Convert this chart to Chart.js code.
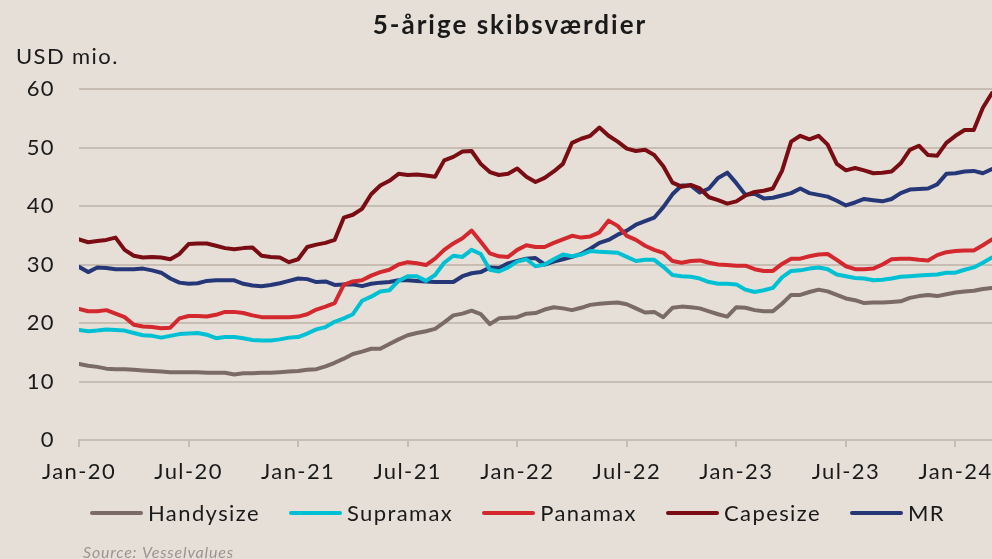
<!DOCTYPE html>
<html>
<head>
<meta charset="utf-8">
<script src="https://cdn.jsdelivr.net/npm/chart.js@4.4.0/dist/chart.umd.min.js"></script>
<style>
    html, body { margin: 0; padding: 0; background: #e5dfd8; }
    #wrap { position: relative; width: 992px; height: 559px; }
    #legend {
        position: absolute; left: 90px; top: 500px;
        display: flex; align-items: center;
        font: 22px Lato, "Open Sans", sans-serif; letter-spacing: 1.4px;
        line-height: 26px; color: #1a1a1a; white-space: nowrap;
    }
    #legend .item { display: flex; align-items: center; margin-right: 29px; }
    #legend .swatch { width: 53px; height: 4px; border-radius: 2px; margin-right: 5px; }
</style>
</head>
<body>
<div id="wrap"><canvas id="chart"></canvas><div id="legend"></div></div>
<script>
// half-monthly observations, month offset from Jan 2020
const monthStep = 0.5;

const handysize = [
    13.0, 12.7, 12.5, 12.2, 12.1, 12.1, 12.0, 11.9, 11.8, 11.7,
    11.6, 11.6, 11.6, 11.6, 11.5, 11.5, 11.5, 11.2, 11.4, 11.4,
    11.5, 11.5, 11.6, 11.7, 11.8, 12.0, 12.1, 12.6, 13.2, 13.9,
    14.7, 15.1, 15.6, 15.6, 16.4, 17.2, 17.9, 18.3, 18.6, 19.0,
    20.1, 21.3, 21.6, 22.1, 21.5, 19.8, 20.8, 20.9, 21.0, 21.6,
    21.7, 22.3, 22.7, 22.5, 22.2, 22.6, 23.1, 23.3, 23.4, 23.5,
    23.2, 22.5, 21.8, 21.9, 21.0, 22.6, 22.8, 22.7, 22.5, 22.0,
    21.5, 21.1, 22.7, 22.6, 22.2, 22.0, 22.0, 23.3, 24.8, 24.8,
    25.3, 25.7, 25.4, 24.8, 24.2, 23.9, 23.4, 23.5, 23.5, 23.6,
    23.7, 24.3, 24.6, 24.8, 24.6, 24.9, 25.2, 25.4, 25.5, 25.8,
    26.0
];
const supramax = [
    18.8, 18.6, 18.7, 18.9, 18.8, 18.7, 18.3, 17.9, 17.8, 17.5,
    17.8, 18.1, 18.2, 18.3, 18.0, 17.4, 17.6, 17.6, 17.4, 17.1,
    17.0, 17.0, 17.2, 17.5, 17.6, 18.2, 18.9, 19.3, 20.2, 20.8,
    21.5, 23.8, 24.5, 25.4, 25.6, 27.2, 28.0, 28.0, 27.2, 28.2,
    30.3, 31.5, 31.3, 32.5, 31.8, 29.1, 28.8, 29.5, 30.5, 30.9,
    29.7, 30.0, 30.9, 31.7, 31.4, 31.7, 32.3, 32.2, 32.1, 32.0,
    31.3, 30.6, 30.8, 30.8, 29.6, 28.2, 28.0, 27.9, 27.6, 27.0,
    26.7, 26.7, 26.6, 25.7, 25.3, 25.6, 26.0, 27.8, 28.9, 29.0,
    29.3, 29.5, 29.2, 28.3, 28.0, 27.7, 27.6, 27.3, 27.4, 27.6,
    27.9, 28.0, 28.1, 28.2, 28.3, 28.6, 28.6, 29.1, 29.5, 30.3,
    31.2
];
const panamax = [
    22.4, 22.0, 22.0, 22.2, 21.6, 21.0, 19.7, 19.4, 19.3, 19.1,
    19.2, 20.8, 21.2, 21.2, 21.1, 21.4, 21.9, 21.9, 21.7, 21.3,
    21.0, 21.0, 21.0, 21.0, 21.1, 21.5, 22.3, 22.8, 23.4, 26.5,
    27.1, 27.3, 28.1, 28.7, 29.1, 30.0, 30.4, 30.2, 29.9, 31.0,
    32.5, 33.6, 34.5, 35.8, 33.9, 31.9, 31.4, 31.3, 32.5, 33.3,
    33.0, 33.0, 33.7, 34.3, 34.9, 34.6, 34.8, 35.5, 37.5, 36.6,
    34.9, 34.2, 33.2, 32.5, 32.0, 30.6, 30.3, 30.6, 30.7, 30.3,
    30.0, 29.9, 29.8, 29.8, 29.2, 28.9, 28.9, 30.1, 31.0, 31.0,
    31.4, 31.7, 31.8, 30.8, 29.7, 29.2, 29.2, 29.3, 30.0, 30.9,
    31.0, 31.0, 30.8, 30.7, 31.6, 32.1, 32.3, 32.4, 32.4, 33.3,
    34.3
];
const capesize = [
    34.3, 33.8, 34.0, 34.2, 34.6, 32.5, 31.5, 31.2, 31.3, 31.2,
    30.9, 31.8, 33.5, 33.6, 33.6, 33.2, 32.8, 32.6, 32.8, 32.9,
    31.5, 31.3, 31.2, 30.4, 30.9, 33.0, 33.4, 33.7, 34.2, 38.0,
    38.5, 39.5, 42.0, 43.5, 44.3, 45.5, 45.3, 45.4, 45.2, 45.0,
    47.8, 48.4, 49.3, 49.4, 47.2, 45.8, 45.3, 45.5, 46.4, 45.0,
    44.1, 44.8, 45.9, 47.2, 50.8, 51.5, 52.0, 53.4, 52.0, 51.0,
    49.8, 49.4, 49.6, 48.7, 46.8, 44.0, 43.3, 43.6, 43.0, 41.5,
    41.0, 40.4, 40.8, 41.8, 42.4, 42.6, 43.0, 46.0, 51.0, 52.0,
    51.4, 52.0, 50.5, 47.2, 46.1, 46.5, 46.1, 45.6, 45.7, 45.9,
    47.3, 49.6, 50.3, 48.7, 48.6, 50.8, 52.0, 53.0, 53.0, 56.8,
    59.3
];
const mr = [
    29.6, 28.7, 29.5, 29.4, 29.2, 29.2, 29.2, 29.3, 29.0, 28.6,
    27.6, 26.9, 26.7, 26.8, 27.2, 27.3, 27.3, 27.3, 26.7, 26.4,
    26.3, 26.5, 26.8, 27.2, 27.6, 27.5, 27.0, 27.1, 26.5, 26.6,
    26.6, 26.3, 26.7, 26.9, 27.0, 27.3, 27.3, 27.2, 27.1, 27.0,
    27.0, 27.0, 28.0, 28.5, 28.7, 29.5, 29.4, 30.2, 30.6, 31.0,
    31.1, 30.0, 30.5, 30.9, 31.3, 31.8, 32.7, 33.7, 34.2, 35.1,
    35.8, 36.8, 37.4, 38.0, 39.8, 42.0, 43.5, 43.5, 42.3, 43.0,
    44.8, 45.7, 43.9, 41.9, 42.1, 41.3, 41.4, 41.8, 42.2, 43.0,
    42.2, 41.9, 41.6, 40.9, 40.1, 40.6, 41.2, 41.0, 40.8, 41.2,
    42.2, 42.8, 42.9, 43.0, 43.7, 45.5, 45.6, 45.9, 46.0, 45.6,
    46.3
];

const seriesNames = ['Handysize', 'Supramax', 'Panamax', 'Capesize', 'MR'];
const seriesColors = ['#7b6b65', '#00c1d4', '#d2282e', '#7a0c13', '#263778'];

const tickMonths = [0, 6, 12, 18, 24, 30, 36, 42, 48];
const tickLabels = ['Jan-20', 'Jul-20', 'Jan-21', 'Jul-21', 'Jan-22', 'Jul-22', 'Jan-23', 'Jul-23', 'Jan-24'];

const chartTitle = '5-årige skibsværdier';
const unitLabel = 'USD mio.';
const sourceText = 'Source: Vesselvalues';

var fontFamily = 'Lato, "Open Sans", sans-serif';
var textColor = '#1a1a1a';
var gridColor = '#c7bdb3';
var spacing = '1.4px';   // the original font runs wider than Lato

function toPoints(values) {
    return values.map((v, i) => ({ x: i * monthStep, y: v }));
}

var allSeries = [handysize, supramax, panamax, capesize, mr];

const data = {
    datasets: allSeries.map((values, i) => ({
        label: seriesNames[i],
        data: toPoints(values),
        borderColor: seriesColors[i],
        backgroundColor: seriesColors[i],
        borderWidth: 4,
        pointRadius: 0,
        borderJoinStyle: 'round',
        borderCapStyle: 'round',
        tension: 0,
    }))
};

// wider letter spacing for everything Chart.js measures and draws
const letterSpacing = {
    id: 'letterSpacing',
    beforeLayout(chart) { chart.ctx.letterSpacing = spacing; },
    beforeDraw(chart) { chart.ctx.letterSpacing = spacing; }
};

// legend as html, so it can sit exactly where the original has it
const htmlLegend = {
    id: 'htmlLegend',
    afterUpdate(chart) {
        const box = document.getElementById('legend');
        box.innerHTML = '';
        chart.data.datasets.forEach(ds => {
            const item = document.createElement('div');
            item.className = 'item';
            const swatch = document.createElement('span');
            swatch.className = 'swatch';
            swatch.style.background = ds.borderColor;
            const text = document.createElement('span');
            text.textContent = ds.label;
            item.appendChild(swatch);
            item.appendChild(text);
            box.appendChild(item);
        });
    }
};

// title, unit and source are drawn straight on the canvas
const extraText = {
    id: 'extraText',
    afterDraw(chart) {
        const ctx = chart.ctx;
        ctx.save();
        ctx.fillStyle = textColor;
        ctx.textBaseline = 'alphabetic';
        ctx.textAlign = 'center';
        ctx.letterSpacing = '2px';
        ctx.font = 'bold 26px ' + fontFamily;
        ctx.fillText(chartTitle, 510, 34);
        ctx.textAlign = 'left';
        ctx.letterSpacing = spacing;
        ctx.font = '22px ' + fontFamily;
        ctx.fillText(unitLabel, 16, 64);
        ctx.letterSpacing = '0.8px';
        ctx.font = 'italic 16px ' + fontFamily;
        ctx.fillStyle = '#9b958f';
        ctx.fillText(sourceText, 83, 558);
        ctx.restore();
    }
};

const config = {
    type: 'line',
    data: data,
    plugins: [letterSpacing, htmlLegend, extraText],
    options: {
        responsive: true,
        maintainAspectRatio: false,
        animation: false,
        layout: {
            padding: { top: 89, left: 0, right: 0, bottom: 73 }
        },
        plugins: {
            title: { display: false },
            tooltip: { enabled: false },
            legend: { display: false }
        },
        scales: {
            x: {
                type: 'linear',
                min: 0,
                max: 50,
                afterBuildTicks: (scale) => {
                    scale.ticks = tickMonths.map(v => ({ value: v }));
                },
                afterFit: (scale) => {
                    scale.height = 46;
                    scale.paddingLeft = 0;
                    scale.paddingRight = 0;
                },
                ticks: {
                    autoSkip: false,
                    maxRotation: 0,
                    padding: 12,
                    color: textColor,
                    font: { size: 22, family: fontFamily },
                    callback: (value, index) => tickLabels[index]
                },
                grid: {
                    drawOnChartArea: false,
                    drawTicks: true,
                    tickLength: 7,
                    color: gridColor,
                    lineWidth: 2
                },
                border: { display: true, color: gridColor, width: 2 }
            },
            y: {
                min: 0,
                max: 60,
                afterFit: (scale) => { scale.width = 79; },
                ticks: {
                    stepSize: 10,
                    padding: 24,
                    color: textColor,
                    font: { size: 22, family: fontFamily }
                },
                grid: {
                    drawTicks: false,
                    color: gridColor,
                    lineWidth: 2
                },
                border: { display: false }
            }
        }
    }
};

new Chart(document.getElementById('chart'), config);
</script>
</body>
</html>
